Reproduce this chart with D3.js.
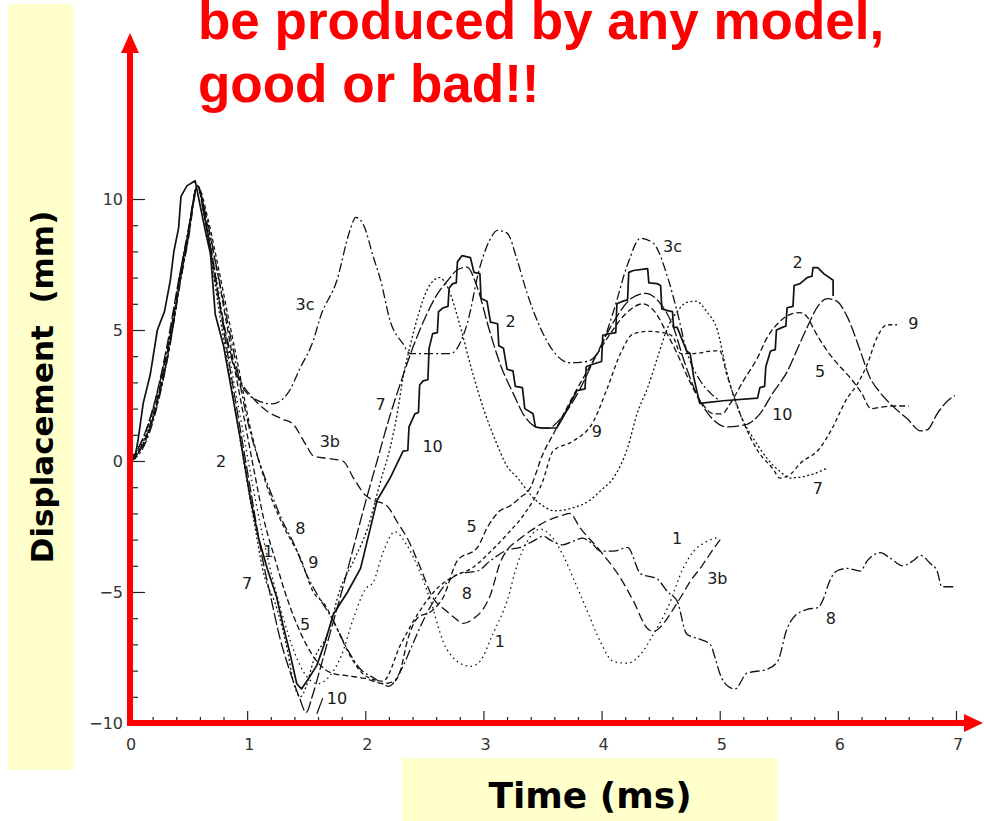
<!DOCTYPE html>
<html>
<head>
<meta charset="utf-8">
<script src="https://cdn.jsdelivr.net/npm/d3@7"></script>
<style>
body { margin: 0; background: #fff; }
svg { display: block; }
</style>
</head>
<body>
<script>
// values: [time (ms), displacement (mm)]
var s1 = [[0,0],[0.06,0.3],[0.15,1.1],[0.25,2.7],[0.35,4.8],[0.43,7.0],[0.5,8.7],[0.58,10.5],[0.65,9.0],[0.72,7.5],[0.8,5.3],[0.88,3.2],[0.97,1.0],[1.05,-1.0],[1.12,-2.6],[1.2,-4.2],[1.3,-5.9],[1.4,-7.3],[1.5,-8.2],[1.6,-8.5],[1.7,-8.2],[1.8,-7.4],[1.9,-6.0],[2.0,-4.9],[2.07,-4.6],[2.15,-3.5],[2.25,-2.7],[2.35,-3.2],[2.45,-4.1],[2.55,-5.3],[2.66,-6.9],[2.78,-7.65],[2.89,-7.84],[2.97,-7.65],[3.08,-6.6],[3.2,-5.35],[3.29,-3.9],[3.38,-3.0],[3.48,-2.6],[3.58,-2.9],[3.67,-3.56],[3.76,-4.47],[3.88,-5.74],[3.99,-6.9],[4.1,-7.65],[4.22,-7.72],[4.33,-7.38],[4.44,-6.6],[4.56,-5.6],[4.69,-4.1],[4.78,-3.44],[4.88,-3.1],[5.0,-2.9]];

var s2 = [[0,0],[0.05,0.1],[0.08,0.9],[0.12,2.2],[0.18,3.3],[0.24,5.0],[0.3,5.7],[0.35,6.9],[0.38,8.0],[0.42,8.9],[0.44,10.1],[0.49,10.5],[0.56,10.7],[0.6,9.8],[0.65,8.7],[0.69,7.9],[0.73,5.6],[0.8,4.4],[0.88,2.4],[0.94,0.9],[0.97,0.1],[1.03,-1.5],[1.1,-3.0],[1.17,-4.1],[1.25,-5.2],[1.3,-6.2],[1.36,-7.3],[1.42,-8.5],[1.46,-8.7],[1.52,-8.3],[1.59,-7.8],[1.66,-6.9],[1.73,-5.85],[1.85,-5.0],[1.96,-4.1],[2.03,-2.8],[2.1,-1.5],[2.21,-0.65],[2.32,0.38],[2.36,0.4],[2.37,1.3],[2.42,1.8],[2.45,1.85],[2.46,2.9],[2.49,3.06],[2.53,3.1],[2.54,4.3],[2.57,4.86],[2.61,4.9],[2.62,5.7],[2.66,5.85],[2.7,5.9],[2.71,6.6],[2.74,6.77],[2.77,6.8],[2.78,7.6],[2.82,7.84],[2.89,7.76],[2.92,7.2],[2.97,7.15],[2.98,6.2],[3.03,6.1],[3.06,5.3],[3.12,5.24],[3.13,4.4],[3.17,4.3],[3.2,3.5],[3.25,3.44],[3.27,2.85],[3.33,2.8],[3.35,2.0],[3.42,1.8],[3.44,1.3],[3.48,1.26],[3.62,1.26],[3.67,1.64],[3.79,2.68],[3.86,2.75],[3.87,3.6],[3.93,3.7],[4.0,3.8],[4.01,4.8],[4.07,4.86],[4.12,4.9],[4.13,6.0],[4.18,6.1],[4.22,6.15],[4.23,7.2],[4.27,7.27],[4.39,7.34],[4.4,6.8],[4.47,6.77],[4.5,6.7],[4.51,5.8],[4.56,5.74],[4.6,5.7],[4.61,5.1],[4.64,5.1],[4.72,4.2],[4.75,4.1],[4.78,3.2],[4.83,2.2],[5.03,2.3],[5.32,2.4],[5.34,2.8],[5.38,2.85],[5.39,3.6],[5.43,4.2],[5.47,4.25],[5.48,5.0],[5.53,5.1],[5.56,5.15],[5.57,5.85],[5.62,5.9],[5.63,6.7],[5.68,6.77],[5.74,7.0],[5.78,7.05],[5.79,7.38],[5.83,7.38],[5.88,7.15],[5.96,6.9],[5.96,6.3]];

var s3b = [[0,0],[0.05,0.2],[0.15,1.0],[0.25,2.6],[0.35,4.8],[0.43,7.0],[0.5,8.7],[0.58,10.5],[0.64,9.4],[0.7,7.8],[0.77,6.0],[0.85,4.3],[0.94,3.1],[1.05,2.4],[1.17,1.9],[1.3,1.6],[1.39,1.4],[1.5,0.6],[1.56,0.2],[1.68,0.1],[1.81,0],[1.9,-0.65],[2.0,-1.3],[2.07,-1.5],[2.18,-1.7],[2.28,-2.4],[2.35,-2.9],[2.46,-4.0],[2.57,-5.2],[2.68,-5.7],[2.76,-6.0],[2.83,-6.2],[2.92,-6.0],[2.99,-5.7],[3.06,-5.1],[3.14,-3.9],[3.2,-3.4],[3.3,-3.0],[3.42,-2.6],[3.53,-2.3],[3.65,-2.1],[3.73,-2.0],[3.82,-2.56],[3.99,-3.44],[4.16,-4.47],[4.27,-5.35],[4.39,-6.4],[4.44,-6.5],[4.52,-6.23],[4.6,-5.7],[4.67,-5.2],[4.75,-4.6],[4.85,-4.0],[4.94,-3.4],[5.02,-2.9]];

var s3c = [[0,0],[0.05,0.3],[0.15,1.2],[0.25,2.8],[0.35,4.9],[0.43,7.1],[0.5,8.8],[0.58,10.5],[0.64,9.3],[0.7,7.7],[0.77,5.9],[0.85,4.2],[0.94,3.0],[1.05,2.4],[1.21,2.18],[1.34,2.56],[1.45,3.56],[1.56,4.6],[1.62,5.5],[1.76,6.9],[1.87,8.8],[1.92,9.3],[1.98,9.06],[2.07,7.76],[2.13,6.9],[2.21,5.35],[2.32,4.47],[2.38,4.1],[2.55,4.1],[2.72,4.1],[2.86,5.2],[2.97,7.4],[3.05,8.4],[3.12,8.8],[3.2,8.7],[3.29,7.6],[3.37,6.4],[3.48,5.1],[3.59,4.2],[3.73,3.75],[3.88,3.8],[3.99,4.3],[4.1,5.7],[4.22,7.5],[4.33,8.5],[4.44,8.3],[4.56,7.0],[4.64,5.7],[4.72,4.2],[4.83,3.1],[4.92,2.6],[5.0,2.3]];

var s5 = [[0,0],[0.06,0.2],[0.15,0.9],[0.25,2.4],[0.35,4.6],[0.43,6.8],[0.5,8.5],[0.58,10.5],[0.66,9.1],[0.74,7.4],[0.82,5.4],[0.9,3.4],[0.98,1.5],[1.06,-0.4],[1.14,-2.2],[1.24,-3.8],[1.32,-5.0],[1.4,-6.0],[1.5,-7.0],[1.6,-7.7],[1.72,-8.1],[1.85,-8.2],[2.0,-8.3],[2.15,-8.5],[2.25,-8.4],[2.29,-8.1],[2.36,-6.8],[2.44,-6.0],[2.57,-5.7],[2.66,-5.2],[2.78,-3.8],[2.95,-3.3],[3.03,-2.56],[3.14,-1.9],[3.23,-1.7],[3.31,-1.4],[3.4,-1.0],[3.45,-0.4],[3.48,0],[3.6,1.1],[3.75,2.4],[3.9,3.6],[4.05,4.7],[4.2,5.6],[4.35,6.0],[4.45,5.7],[4.55,4.9],[4.65,4.0],[4.75,3.0],[4.85,2.2],[4.95,1.8],[5.02,1.8],[5.09,2.2],[5.2,3.06],[5.32,3.94],[5.4,4.7],[5.49,5.24],[5.6,5.6],[5.68,5.66],[5.74,5.5],[5.8,5.0],[5.88,4.4],[5.98,3.8],[6.1,3.2],[6.2,2.6],[6.28,2.0],[6.36,2.05],[6.48,2.1],[6.6,2.1]];

var s7 = [[0,0],[0.05,0.2],[0.15,1.0],[0.25,2.5],[0.35,4.6],[0.43,6.8],[0.5,8.5],[0.58,10.5],[0.63,9.5],[0.7,7.6],[0.76,5.8],[0.84,3.6],[0.92,1.4],[1.0,-0.8],[1.07,-2.6],[1.13,-4.1],[1.25,-5.6],[1.34,-7.2],[1.39,-8.4],[1.45,-9.0],[1.5,-8.6],[1.56,-7.65],[1.68,-6.6],[1.79,-4.86],[1.9,-3.82],[2.02,-2.56],[2.13,-0.76],[2.21,0.5],[2.27,1.8],[2.32,3.2],[2.38,4.4],[2.45,5.6],[2.52,6.5],[2.58,6.9],[2.63,7.0],[2.7,6.6],[2.8,5.2],[2.9,3.5],[3.0,2.0],[3.1,0.8],[3.2,-0.2],[3.29,-0.65],[3.4,-1.3],[3.5,-1.7],[3.6,-1.9],[3.75,-1.8],[3.9,-1.5],[4.0,-1.1],[4.1,-0.65],[4.22,0.5],[4.3,1.8],[4.39,2.8],[4.47,3.9],[4.56,5.1],[4.64,5.7],[4.72,6.05],[4.8,6.1],[4.89,5.7],[4.98,5.0],[5.06,3.4],[5.2,1.5],[5.28,0.9],[5.4,0.1],[5.51,-0.4],[5.6,-0.65],[5.7,-0.6],[5.79,-0.5],[5.91,-0.27]];

var s8 = [[0,0],[0.05,0.1],[0.15,0.8],[0.25,2.3],[0.35,4.5],[0.43,6.7],[0.5,8.4],[0.58,10.4],[0.66,9.2],[0.75,7.2],[0.83,5.4],[0.92,3.4],[1.0,1.6],[1.1,0.0],[1.2,-1.2],[1.3,-2.3],[1.4,-3.2],[1.5,-4.3],[1.62,-5.3],[1.73,-6.1],[1.85,-7.2],[1.95,-7.9],[2.08,-8.3],[2.2,-8.6],[2.3,-8.0],[2.4,-7.0],[2.5,-6.0],[2.6,-5.2],[2.7,-4.6],[2.8,-4.3],[2.95,-4.2],[3.06,-3.8],[3.2,-3.4],[3.31,-3.3],[3.42,-3.06],[3.51,-2.87],[3.56,-3.0],[3.67,-3.2],[3.76,-3.06],[3.84,-2.94],[3.93,-3.2],[3.99,-3.44],[4.1,-3.44],[4.22,-3.3],[4.33,-4.3],[4.47,-4.5],[4.56,-5.0],[4.64,-5.35],[4.72,-6.6],[4.83,-6.8],[4.92,-7.0],[4.96,-7.5],[5.0,-8.1],[5.07,-8.6],[5.13,-8.7],[5.23,-8.1],[5.4,-7.95],[5.49,-7.65],[5.57,-6.4],[5.62,-6.0],[5.74,-5.66],[5.83,-5.6],[5.88,-5.24],[5.92,-4.7],[5.99,-4.2],[6.08,-4.1],[6.19,-4.2],[6.25,-3.8],[6.36,-3.5],[6.44,-3.7],[6.55,-4.0],[6.64,-3.8],[6.7,-3.6],[6.78,-3.9],[6.84,-4.2],[6.88,-4.8],[6.99,-4.8]];

var s9 = [[0,0],[0.06,0.2],[0.15,0.9],[0.25,2.4],[0.35,4.5],[0.43,6.8],[0.5,8.5],[0.58,10.5],[0.67,9.2],[0.76,7.3],[0.84,5.5],[0.93,3.5],[1.02,1.4],[1.12,-0.3],[1.22,-1.6],[1.32,-2.6],[1.45,-3.7],[1.56,-5.0],[1.66,-5.5],[1.76,-6.4],[1.88,-7.5],[2.0,-8.2],[2.15,-8.4],[2.3,-7.0],[2.45,-5.8],[2.6,-4.9],[2.75,-4.4],[2.9,-4.1],[3.05,-3.5],[3.2,-2.8],[3.35,-2.0],[3.5,-0.8],[3.59,0.38],[3.76,0.76],[3.93,1.5],[4.05,2.8],[4.16,4.1],[4.27,4.86],[4.4,4.95],[4.56,4.86],[4.61,4.7],[4.67,4.1],[4.78,4.1],[4.94,4.2],[5.0,4.2],[5.06,3.3],[5.2,1.5],[5.32,0.4],[5.45,-0.3],[5.51,-0.65],[5.6,-0.5],[5.68,-0.1],[5.85,0.5],[5.94,1.15],[6.08,2.4],[6.16,2.9],[6.25,3.7],[6.33,4.7],[6.42,5.2],[6.5,5.2]];

var s10 = [[0,0],[0.04,0.2],[0.12,0.9],[0.22,2.3],[0.33,4.6],[0.42,6.9],[0.5,8.7],[0.58,10.5],[0.64,9.3],[0.71,7.7],[0.78,5.6],[0.86,3.4],[0.95,1.0],[1.04,-1.4],[1.12,-3.5],[1.2,-5.2],[1.28,-6.8],[1.36,-8.0],[1.44,-9.0],[1.5,-9.6],[1.55,-9.0],[1.62,-7.9],[1.7,-6.6],[1.8,-5.0],[1.9,-3.3],[2.0,-1.6],[2.1,0.0],[2.2,1.6],[2.3,3.0],[2.4,4.3],[2.5,5.4],[2.6,6.3],[2.7,6.9],[2.78,7.3],[2.86,7.4],[2.95,6.6],[3.05,5.0],[3.15,3.6],[3.25,2.6],[3.35,1.7],[3.45,1.3],[3.55,1.25],[3.65,1.6],[3.8,2.6],[3.95,4.0],[4.1,5.3],[4.25,6.2],[4.37,6.4],[4.5,6.0],[4.6,5.2],[4.7,3.8],[4.8,2.6],[4.94,1.6],[5.06,1.3],[5.23,1.4],[5.34,1.8],[5.45,2.6],[5.57,3.4],[5.66,4.3],[5.74,5.1],[5.83,5.9],[5.91,6.2],[5.99,6.1],[6.08,5.5],[6.19,4.2],[6.27,3.2],[6.36,2.6],[6.44,2.2],[6.59,1.6],[6.7,1.15],[6.76,1.2],[6.84,1.8],[6.93,2.3],[6.99,2.5]];

var seriesNames = ["1", "2", "3b", "3c", "5", "7", "8", "9", "10"];
var seriesData = [s1, s2, s3b, s3c, s5, s7, s8, s9, s10];

// curve labels written on the figure: [text, time, displacement]
var curveLabels = [
    ["3c", 1.49, 6.0], ["3c", 4.6, 8.2],
    ["3b", 1.70, 0.76], ["3b", 4.98, -4.47],
    ["2", 0.78, 0.0], ["2", 3.23, 5.35], ["2", 5.66, 7.57],
    ["7", 2.13, 2.18], ["7", 1.0, -4.67], ["7", 5.83, -1.03],
    ["10", 2.57, 0.57], ["10", 1.76, -9.06], ["10", 5.53, 1.8],
    ["8", 1.45, -2.56], ["8", 2.86, -5.05], ["8", 5.94, -6.0],
    ["9", 1.56, -3.86], ["9", 3.96, 1.15], ["9", 6.64, 5.24],
    ["5", 1.49, -6.23], ["5", 2.9, -2.49], ["5", 5.85, 3.44],
    ["1", 1.18, -3.44], ["1", 3.14, -6.88], ["1", 4.64, -2.94]
];
var leader10 = [[1.59, -9.65], [1.64, -9.05]];

var xTicks = [0, 1, 2, 3, 4, 5, 6, 7];
var yTicks = [-10, -5, 0, 5, 10];
var titleLines = ["be produced by any model,", "good or bad!!"];
var xTitle = "Time (ms)";
var yTitle = "Displacement\u00a0\u00a0(mm)";

var width = 984;
var height = 821;

var dashes = {
    "1": "1.5,3.5",
    "2": null,
    "3b": "9,4",
    "3c": "9,3,2,3",
    "5": "6,3",
    "7": "2,2.5",
    "8": "10,3,2,3",
    "9": "4,3",
    "10": "12,3"
};

var svg = d3.select("body")
    .append("svg")
    .attr("width", width)
    .attr("height", height)
    .style("background", "#ffffff");

// x axis scale
var xScale = d3.scaleLinear()
    .domain([0, 7])
    .range([129, 956]);

// y axis scale
var yScale = d3.scaleLinear()
    .domain([-10, 10])
    .range([723, 199]);

// yellow label boxes
svg.append("rect")
    .attr("x", 8).attr("y", 4)
    .attr("width", 65).attr("height", 766)
    .style("fill", "#ffffcc");

svg.append("rect")
    .attr("x", 402).attr("y", 758)
    .attr("width", 375).attr("height", 70)
    .style("fill", "#ffffcc");

svg.append("text")
    .attr("transform", "translate(53,387) rotate(-90)")
    .attr("text-anchor", "middle")
    .style("font-family", "'DejaVu Sans', Verdana, sans-serif")
    .style("font-weight", "bold")
    .style("font-size", "31px")
    .style("fill", "#000")
    .text(yTitle);

svg.append("text")
    .attr("x", 590).attr("y", 808)
    .attr("text-anchor", "middle")
    .style("font-family", "'DejaVu Sans', Verdana, sans-serif")
    .style("font-weight", "bold")
    .style("font-size", "36px")
    .style("fill", "#000")
    .text(xTitle);

// title
svg.selectAll(".title")
    .data(titleLines)
    .enter().append("text")
    .attr("class", "title")
    .attr("x", 198)
    .attr("y", function(d, i) { return 39 + i * 63; })
    .style("font-family", "'Liberation Sans', Arial, sans-serif")
    .style("font-weight", "bold")
    .style("font-size", "53px")
    .style("fill", "#ff0000")
    .text(function(d) { return d; });

// original black axes with inward ticks
var minorX = d3.range(0, 7.01, 0.2).filter(function(v) { return Math.abs(v - Math.round(v)) > 0.01; });
var minorY = d3.range(-10, 10.01, 1).filter(function(v) { return v % 5 !== 0; });

var xAxisMajor = d3.axisBottom(xScale)
    .tickValues(xTicks)
    .tickSize(-12)
    .tickSizeOuter(0)
    .tickPadding(16)
    .tickFormat(d3.format("d"));

var xAxisMinor = d3.axisBottom(xScale)
    .tickValues(minorX)
    .tickSize(-6)
    .tickSizeOuter(0)
    .tickFormat("");

var yAxisMajor = d3.axisLeft(yScale)
    .tickValues(yTicks)
    .tickSize(-15)
    .tickSizeOuter(0)
    .tickPadding(7)
    .tickFormat(d3.format("d"));

var yAxisMinor = d3.axisLeft(yScale)
    .tickValues(minorY)
    .tickSize(-8)
    .tickSizeOuter(0)
    .tickFormat("");

svg.append("g").attr("transform", "translate(0," + yScale(-10) + ")").call(xAxisMinor);
svg.append("g").attr("class", "xmaj").attr("transform", "translate(0," + yScale(-10) + ")").call(xAxisMajor);
svg.append("g").attr("transform", "translate(" + (xScale(0) + 1) + ",0)").call(yAxisMinor);
svg.append("g").attr("class", "ymaj").attr("transform", "translate(" + (xScale(0) + 1) + ",0)").call(yAxisMajor);

svg.selectAll(".tick line").style("stroke", "#222").style("stroke-width", 1.2);
svg.selectAll(".tick text")
    .style("font-family", "'DejaVu Sans', sans-serif")
    .style("font-size", "16px")
    .style("fill", "#333");
svg.selectAll(".xmaj .tick text").attr("dx", "0.1em");

// curves
var line = d3.line()
    .x(function(d) { return xScale(d[0]); })
    .y(function(d) { return yScale(d[1]); })
    .curve(d3.curveMonotoneX);

var rawLine = d3.line()
    .x(function(d) { return xScale(d[0]); })
    .y(function(d) { return yScale(d[1]); });

var canvas = svg.append("g").attr("class", "curves");

canvas.selectAll(".curve")
    .data(seriesNames)
    .enter().append("path")
    .attr("class", "curve")
    .attr("d", function(d, i) {
        return d === "2" ? rawLine(seriesData[i]) : line(seriesData[i]);
    })
    .style("fill", "none")
    .style("stroke", "#111")
    .style("stroke-width", function(d) { return d === "2" ? 1.7 : 1.3; })
    .style("stroke-dasharray", function(d) { return dashes[d]; })
    .style("stroke-linejoin", "round");

canvas.append("path")
    .attr("d", rawLine(leader10))
    .style("stroke", "#111")
    .style("stroke-width", 1.2);

canvas.selectAll(".clabel")
    .data(curveLabels)
    .enter().append("text")
    .attr("class", "clabel")
    .attr("x", function(d) { return xScale(d[1]); })
    .attr("y", function(d) { return yScale(d[2]); })
    .attr("dy", "0.36em")
    .attr("text-anchor", "middle")
    .style("font-family", "'DejaVu Sans', sans-serif")
    .style("font-size", "16px")
    .style("fill", "#1a1a1a")
    .text(function(d) { return d[0]; });

// red arrows drawn over the scan
var x0 = xScale(0) + 1;
var y0 = yScale(-10);
var red = "#ff0000";

svg.append("line")
    .attr("x1", x0).attr("y1", y0 + 3)
    .attr("x2", x0).attr("y2", 50)
    .style("stroke", red).style("stroke-width", 6);

svg.append("path")
    .attr("d", "M" + x0 + ",33L" + (x0 + 9) + ",53L" + (x0 - 9) + ",53Z")
    .style("fill", red);

svg.append("line")
    .attr("x1", x0 - 3).attr("y1", y0)
    .attr("x2", 966).attr("y2", y0)
    .style("stroke", red).style("stroke-width", 6);

svg.append("path")
    .attr("d", "M983," + y0 + "L964," + (y0 - 9) + "L964," + (y0 + 9) + "Z")
    .style("fill", red);
</script>
</body>
</html>
